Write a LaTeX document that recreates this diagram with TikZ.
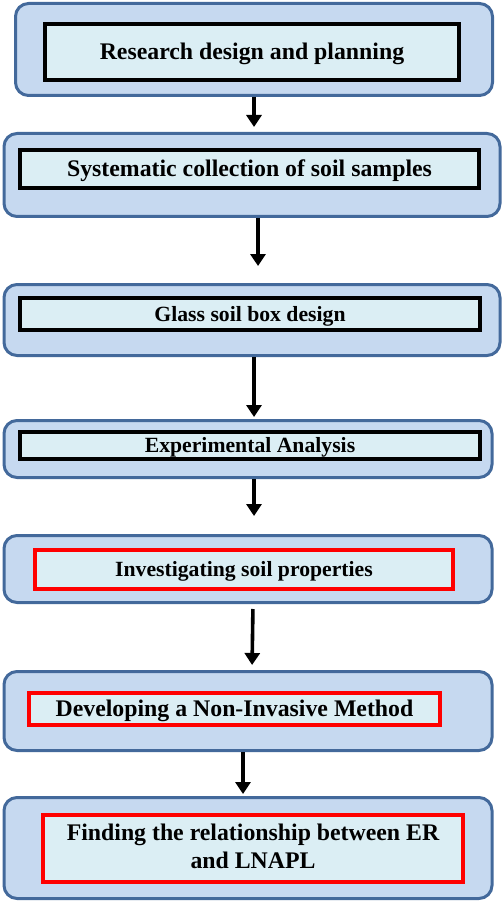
\documentclass[tikz,border=0pt]{standalone}
\usepackage{fontspec}
\setmainfont{Liberation Serif}
\usetikzlibrary{arrows.meta}
\definecolor{outerfill}{HTML}{C6D9F0}
\definecolor{outerline}{HTML}{43699B}
\definecolor{innerfill}{HTML}{DBEEF4}
\definecolor{redline}{HTML}{FF0000}
\tikzset{
  outerbox/.style={draw=outerline, fill=outerfill, line width=3pt, rounded corners=13pt, inner sep=0pt},
  innerbox/.style={draw=black, fill=innerfill, line width=4.5pt, inner sep=0pt, align=center, font=\bfseries},
  redbox/.style={innerbox, draw=redline},
  bigtext/.style={font=\fontsize{23.8}{28}\selectfont\bfseries, text height=15.7pt, text depth=0pt},
  smalltext/.style={font=\fontsize{21.7}{26}\selectfont\bfseries, text height=14.3pt, text depth=0pt},
  arr/.style={draw=black, line width=3.6pt, -{Triangle[width=15pt,length=12pt]}}
}
\begin{document}
\begin{tikzpicture}[x=1pt,y=-1pt]
\useasboundingbox (0,0) rectangle (503,901);
% outer boxes
\node[outerbox, minimum width=477pt, minimum height=92pt] (o1) at (254,49.5) {};
\node[outerbox, minimum width=496pt, minimum height=83pt] (o2) at (252,175) {};
\node[outerbox, minimum width=496pt, minimum height=71pt] (o3) at (252,320) {};
\node[outerbox, minimum width=488pt, minimum height=57pt] (o4) at (248,449) {};
\node[outerbox, minimum width=488pt, minimum height=67pt] (o5) at (248,569) {};
\node[outerbox, minimum width=488pt, minimum height=79pt] (o6) at (248,711) {};
\node[outerbox, minimum width=488pt, minimum height=101pt] (o7) at (248,848) {};
% inner boxes
\node[innerbox, minimum width=414pt, minimum height=56pt] (i1) at (252,52) {};
\node[bigtext] (t1) at (i1.center) {Research design and planning};
\node[innerbox, minimum width=459pt, minimum height=38pt] (i2) at (249.5,169) {};
\node[bigtext] (t2) at (i2.center) {Systematic collection of soil samples};
\node[innerbox, minimum width=460pt, minimum height=32pt] (i3) at (250,314) {};
\node[smalltext] (t3) at (i3.center) {Glass soil box design};
\node[innerbox, minimum width=460pt, minimum height=27pt] (i4) at (250,445.5) {};
\node[smalltext] (t4) at (i4.center) {Experimental Analysis};
\node[redbox, minimum width=418pt, minimum height=39pt] (i5) at (244,569.5) {};
\node[smalltext] (t5) at (i5.center) {Investigating soil properties};
\node[redbox, minimum width=411pt, minimum height=32pt] (i6) at (234.5,709) {};
\node[bigtext] (t6) at (i6.center) {Developing a Non-Invasive Method};
\node[redbox, minimum width=420pt, minimum height=67pt] (i7) at (253,848.5) {};
\node[bigtext, align=center, text height=, text depth=] (t7) at ([yshift=2]i7.center) {Finding the relationship between ER\\and LNAPL};
% arrows
\draw[arr, shorten >=5pt] (o1.south) -- (o2.north -| o1.south);
\draw[arr, shorten >=17pt] ([xshift=6pt]o2.south) -- ([xshift=6pt]o3.north);
\draw[arr, shorten >=2pt] ([xshift=2pt]o3.south) -- ([xshift=2pt]o3.south |- o4.north);
\draw[arr, shorten >=18pt] ([xshift=6pt]o4.south) -- ([xshift=6pt]o5.north);
\draw[arr, shorten <=5pt, shorten >=5pt] ([xshift=5pt]o5.south) -- ([xshift=4pt]o6.north);
\draw[arr, shorten >=2pt] ([xshift=-5pt]o6.south) -- ([xshift=-5pt]o7.north);
\end{tikzpicture}
\end{document}
